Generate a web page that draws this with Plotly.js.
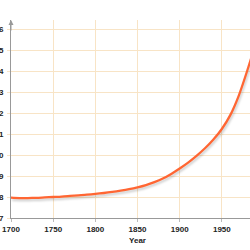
<!DOCTYPE html>
<html><head><meta charset="utf-8">
<script src="https://cdn.plot.ly/plotly-3.0.1.min.js"></script>
<style>
html,body{margin:0;padding:0;overflow:hidden;width:250px;height:250px;background:#fff;}
#chart{position:absolute;left:0;top:0;width:266px;height:250px;}
.scatterlayer .trace path.js-line{filter:drop-shadow(1px 2px 1px rgba(0,0,0,0.2));}
</style></head>
<body><div id="chart"></div>
<script>
const years = [1700,1710,1720,1730,1740,1750,1760,1770,1780,1790,1800,1810,1820,1830,1840,1850,1860,1870,1880,1890,1900,1910,1920,1930,1940,1950,1960,1970,1980,1990];
const values = [7.97,7.95,7.95,7.96,7.98,8.0,8.02,8.05,8.08,8.11,8.15,8.19,8.24,8.30,8.37,8.46,8.57,8.71,8.88,9.1,9.36,9.64,9.96,10.32,10.74,11.24,11.9,12.82,14.0,15.3];
const xTicks = [1700,1750,1800,1850,1900,1950,2000];
const yTicks = [7,8,9,10,11,12,13,14,15,16];
const grid = '#f8e4c6';
const fnt = {family:'Liberation Sans, Arial, sans-serif', size:8, color:'#222', weight:'bold'};
Plotly.newPlot('chart', [{
  x: years, y: values, type:'scatter', mode:'lines', line:{color:'#ff6633', width:2.3, shape:'spline', smoothing:0.8}, hoverinfo:'skip'
}], {
  width:266, height:250,
  margin:{l:11, r:2, t:20, b:32},
  paper_bgcolor:'#fff', plot_bgcolor:'#fff',
  showlegend:false,
  font: fnt,
  xaxis:{range:[1700,2000], tickvals:xTicks, ticktext:xTicks.map(String), showgrid:true, gridcolor:grid, gridwidth:1,
    showline:true, linecolor:'#999', linewidth:1, zeroline:false, ticks:'outside', ticklen:3, tickcolor:'#bbb',
    tickfont:fnt, title:{text:'Year', font:fnt, standoff:4}},
  yaxis:{range:[7,16.43], tickvals:yTicks, ticktext:yTicks.map(String), showgrid:true, gridcolor:grid, gridwidth:1,
    showline:true, linecolor:'#999', linewidth:1, zeroline:false, ticks:'outside', ticklen:3, tickcolor:grid,
    ticklabelstandoff:2, tickfont:fnt, automargin:false},
  annotations:[{xref:'paper', yref:'paper', x:0, y:1, ax:0, ay:12, text:'', showarrow:true, arrowhead:2, arrowsize:1, arrowwidth:1, arrowcolor:'#999'}]
}, {staticPlot:true, displayModeBar:false});
</script></body></html>
